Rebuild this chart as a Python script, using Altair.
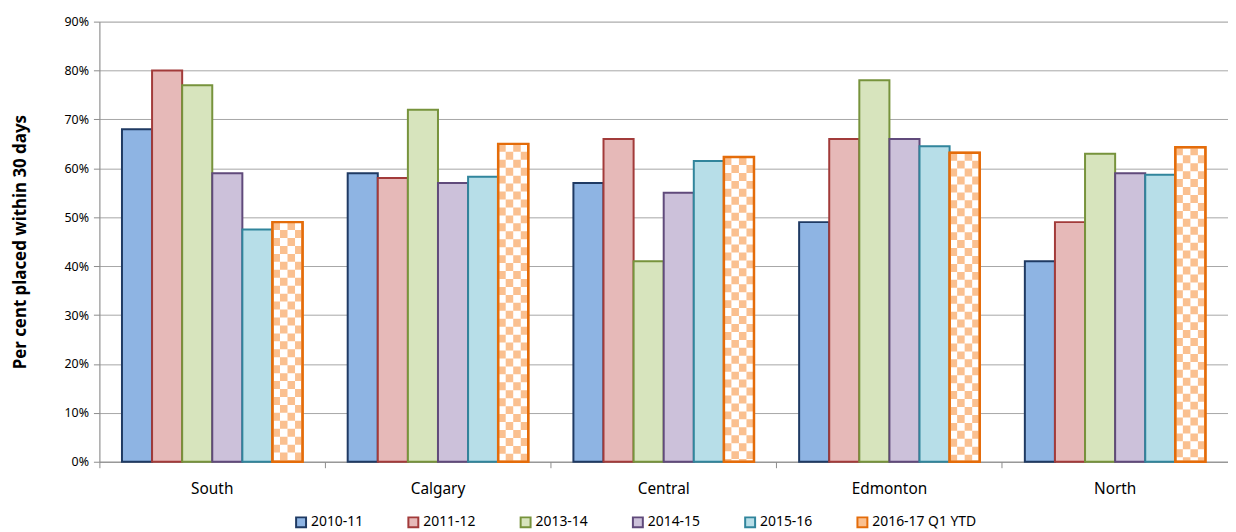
import altair as alt
import pandas as pd

regions = ["South", "Calgary", "Central", "Edmonton", "North"]
series = ["2010-11", "2011-12", "2013-14", "2014-15", "2015-16", "2016-17 Q1 YTD"]
v_2010_11 = [68, 59, 57, 49, 41]
v_2011_12 = [80, 58, 66, 66, 49]
v_2013_14 = [77, 72, 41, 78, 63]
v_2014_15 = [59, 57, 55, 66, 59]
v_2015_16 = [47.5, 58.3, 61.5, 64.5, 58.7]
v_2016_17 = [49, 65, 62.3, 63.2, 64.3]
y_ticks = [0, 10, 20, 30, 40, 50, 60, 70, 80, 90]

fills = ["#8EB4E3", "#E6B9B8", "#D7E4BD", "#CCC1DA", "#B7DEE8", "#FAC090"]
strokes = ["#1F3A63", "#A23B3A", "#77933C", "#604A7B", "#31859C", "#E46C0A"]

all_vals = [v_2010_11, v_2011_12, v_2013_14, v_2014_15, v_2015_16, v_2016_17]
rows = []
for s, vals in zip(series, all_vals):
    for r, v in zip(regions, vals):
        rows.append({"region": r, "series": s, "value": v})
df = pd.DataFrame(rows)

last = series[-1]
n_sub = 4
sub_domain = [str(i) for i in range(len(series) * n_sub)]
pat_rows = []
for r, v in zip(regions, v_2016_17):
    for k in range(n_sub):
        pat_rows.append({"region": r, "sub": str((len(series) - 1) * n_sub + k),
                         "value": v, "parity": k % 2})
pat = pd.DataFrame(pat_rows)

FONT = "Noto Sans"
PLOT_W = 1136
PLOT_H = 443
SUB_W = PLOT_W / 5 * 0.8 / 24
x_scale = alt.Scale(domain=regions, paddingInner=0.2, paddingOuter=0.1)

x_enc = alt.X("region:N", sort=regions, title=None, scale=x_scale,
              axis=alt.Axis(orient="bottom", labelAngle=0, labelFont=FONT,
                            labelFontSize=15.5, labelColor="#000000", labelPadding=20,
                            ticks=False, domainColor="#8C8C8C", grid=False))
y_enc = alt.Y("value:Q", title="Per cent placed within 30 days",
              scale=alt.Scale(domain=[0, 90], nice=False),
              axis=alt.Axis(values=y_ticks, labelExpr="datum.value + '%'",
                            labelFont=FONT, labelFontSize=12.5, labelColor="#000000",
                            labelPadding=5, tickSize=6, tickColor="#8C8C8C",
                            domainColor="#8C8C8C", gridColor="#A6A6A6", gridWidth=1,
                            titleFont=FONT, titleFontSize=17, titleFontWeight="bold",
                            titleColor="#000000", titlePadding=35))
xoff_series = alt.XOffset("series:N", sort=series,
                          scale=alt.Scale(domain=series, paddingInner=0, paddingOuter=0))

bars = alt.Chart(df).mark_bar(strokeWidth=2).encode(
    x=x_enc,
    xOffset=xoff_series,
    y=y_enc,
    fill=alt.condition(
        alt.datum.series == last,
        alt.value("white"),
        alt.Fill("series:N", sort=series,
                 scale=alt.Scale(domain=series, range=fills),
                 legend=alt.Legend(title=None, orient="none", direction="horizontal",
                                   legendX=196, legendY=497, symbolType="square",
                                   symbolSize=100, symbolStrokeWidth=2,
                                   labelFont=FONT, labelFontSize=14,
                                   labelColor="#000000", columnPadding=41,
                                   labelOffset=3))),
    stroke=alt.Stroke("series:N", sort=series,
                      scale=alt.Scale(domain=series, range=strokes)),
)

def pattern_layer(parity, offset, axis):
    return alt.Chart(pat).transform_filter(alt.datum.parity == parity).mark_rule(
        strokeDash=[8, 8], strokeDashOffset=offset, strokeWidth=SUB_W,
        color="#FAC090", strokeCap="butt"
    ).encode(
        x=alt.X("region:N", sort=regions, scale=x_scale, axis=axis),
        xOffset=alt.XOffset("sub:N", scale=alt.Scale(domain=sub_domain, paddingInner=0,
                                                     paddingOuter=0)),
        y=alt.Y("value:Q"),
        y2=alt.datum(0),
    )

tick_axis = alt.Axis(orient="bottom", labels=False, domain=False, grid=False,
                     ticks=True, tickSize=6, tickColor="#8C8C8C", bandPosition=-0.125,
                     title=None)

outline = alt.Chart(df).transform_filter(alt.datum.series == last).mark_bar(
    fillOpacity=0, stroke="#E46C0A", strokeWidth=2.5
).encode(
    x=alt.X("region:N", sort=regions, scale=x_scale, axis=None),
    xOffset=xoff_series,
    y=alt.Y("value:Q"),
)

chart = alt.layer(
    bars, pattern_layer(0, 0, tick_axis), pattern_layer(1, 8, None), outline
).resolve_scale(xOffset="independent").resolve_axis(x="independent").properties(
    width=PLOT_W, height=PLOT_H,
    autosize=alt.AutoSizeParams(type="none"),
    padding={"left": 92, "top": 12, "right": 0, "bottom": 68},
).configure_view(stroke=None).configure(background="white")

chart.save("out.html", embed_options={"renderer": "svg", "actions": False})
